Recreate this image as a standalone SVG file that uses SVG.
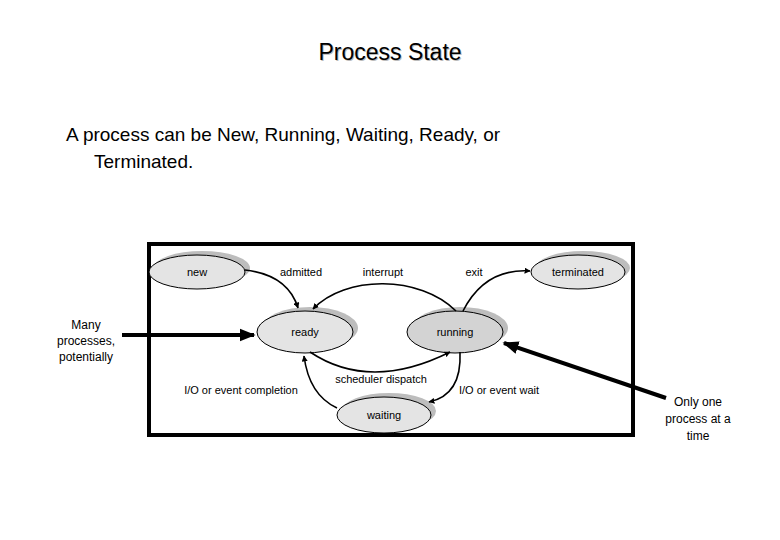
<svg xmlns="http://www.w3.org/2000/svg" width="780" height="540" viewBox="0 0 780 540">
<style>
text{font-family:"Liberation Sans",Arial,sans-serif;fill:#000}
.n ellipse.f{fill:#e4e4e4;stroke:#000;stroke-width:1}
.n ellipse.s{fill:#bdbdbd}
.n text{font-size:11px;text-anchor:middle}
.l{font-size:11px;text-anchor:middle}
.c path{fill:none;stroke:#000;stroke-width:1.6;marker-end:url(#a)}
.o line{stroke:#000;stroke-width:4;marker-end:url(#b)}
.side{font-size:12px;text-anchor:middle}
</style>
<defs>
<marker id="a" viewBox="0 0 10 10" refX="9" refY="5" markerWidth="6" markerHeight="6" orient="auto" markerUnits="userSpaceOnUse" ><path d="M0,0L10,5L0,10z"/></marker>
<marker id="b" viewBox="0 0 10 10" refX="9" refY="5" markerWidth="4" markerHeight="4" orient="auto"><path d="M0,1L10,5L0,9z"/></marker>
</defs>
<rect width="780" height="540" fill="#fff"/>
<text x="391" y="61" font-size="23" text-anchor="middle" fill="#bbb" style="fill:#bbb">Process State</text>
<text x="390" y="60" font-size="23" text-anchor="middle">Process State</text>
<text x="66" y="141" font-size="19">A process can be New, Running, Waiting, Ready, or</text>
<text x="94" y="168" font-size="19">Terminated.</text>
<rect x="149" y="244" width="484" height="191" fill="#fff" stroke="#000" stroke-width="4"/>
<g id="new" class="n"><ellipse class="s" cx="202" cy="268" rx="48" ry="17"/><ellipse class="f" cx="197" cy="272" rx="48" ry="17"/><text x="197" y="276">new</text></g>
<g id="terminated" class="n"><ellipse class="s" cx="583" cy="268" rx="47" ry="17"/><ellipse class="f" cx="578" cy="272" rx="47" ry="17"/><text x="578" y="276">terminated</text></g>
<g id="ready" class="n"><ellipse class="s" cx="310" cy="328" rx="48" ry="21"/><ellipse class="f" cx="305" cy="332" rx="48" ry="21"/><text x="305" y="336">ready</text></g>
<g id="running" class="n"><ellipse class="s" cx="460" cy="328" rx="48" ry="21"/><ellipse class="f" cx="455" cy="332" rx="48" ry="21" style="fill:#d3d3d3"/><text x="455" y="336">running</text></g>
<g id="waiting" class="n"><ellipse class="s" cx="389" cy="411" rx="47" ry="18"/><ellipse class="f" cx="384" cy="415" rx="47" ry="18"/><text x="384" y="419">waiting</text></g>
<g id="connectors" class="c">
<path d="M245,270 Q288,275 298,308"/>
<path d="M456,311 C420,275 345,275 313,309"/>
<path d="M463,311 Q485,268 530,271"/>
<path d="M310,352 Q370,392 450,352"/>
<path d="M460,352 Q462,395 429,402"/>
<path d="M337,408 Q309,395 304,356"/>
</g>
<g class="labels">
<text class="l" x="301" y="276">admitted</text>
<text class="l" x="383" y="276">interrupt</text>
<text class="l" x="474" y="276">exit</text>
<text class="l" x="381" y="383">scheduler dispatch</text>
<text class="l" x="241" y="394">I/O or event completion</text>
<text class="l" x="499" y="394">I/O or event wait</text>
</g>
<g id="outer" class="o">
<line x1="122" y1="335" x2="254" y2="335"/>
<line x1="666" y1="398" x2="504" y2="343"/>
</g>
<text class="side" x="86" y="329">Many</text>
<text class="side" x="86" y="345">processes,</text>
<text class="side" x="86" y="361">potentially</text>
<text class="side" x="698" y="406">Only one</text>
<text class="side" x="698" y="423">process at a</text>
<text class="side" x="698" y="440">time</text>
</svg>
